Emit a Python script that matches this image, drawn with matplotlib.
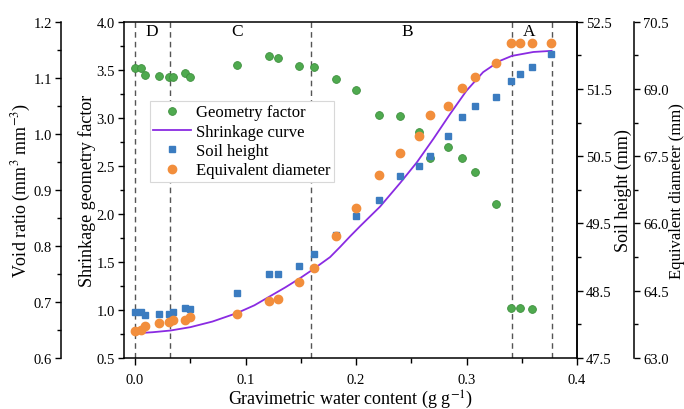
import matplotlib
matplotlib.use("Agg")
import matplotlib.pyplot as plt
from matplotlib.ticker import MultipleLocator, FormatStrFormatter, FixedLocator
from matplotlib.lines import Line2D

plt.rcParams['font.family'] = ['Liberation Serif', 'DejaVu Serif']
plt.rcParams['mathtext.fontset'] = 'stix'

# ---------------- data ----------------
water_content = [0.0, 0.005, 0.009, 0.022, 0.031, 0.0345, 0.045, 0.050, 0.092, 0.1216,
                 0.129, 0.1485, 0.1623, 0.1818, 0.2003, 0.221, 0.2395, 0.2568, 0.267,
                 0.2829, 0.296, 0.308, 0.327, 0.340, 0.3485, 0.3595, 0.376]
geometry_factor = [3.515, 3.515, 3.445, 3.44, 3.42, 3.42, 3.47, 3.42, 3.553, 3.646,
                   3.625, 3.539, 3.532, 3.40, 3.29, 3.029, 3.016, 2.849, 2.582,
                   2.70, 2.58, 2.433, 2.10, 1.018, 1.018, 1.01]
soil_height = [48.18, 48.18, 48.14, 48.15, 48.16, 48.18, 48.25, 48.23, 48.46, 48.75,
               48.75, 48.87, 49.05, 49.33, 49.61, 49.85, 50.21, 50.35, 50.51,
               50.805, 51.08, 51.24, 51.385, 51.62, 51.73, 51.83, 52.02]
equiv_diameter = [63.60, 63.62, 63.71, 63.77, 63.80, 63.85, 63.85, 63.91, 63.98, 64.27,
                  64.32, 64.70, 65.01, 65.71, 66.34, 67.08, 67.57, 67.96, 68.42,
                  68.63, 69.02, 69.27, 69.57, 70.02, 70.02, 70.02, 70.02]
curve_x = [0.0, 0.016, 0.032, 0.05, 0.07, 0.092, 0.108, 0.122, 0.136, 0.149, 0.161,
           0.1765, 0.1855, 0.1946, 0.2036, 0.2217, 0.2398, 0.255, 0.270, 0.285,
           0.300, 0.315, 0.330, 0.341, 0.3605, 0.377]
curve_void_ratio = [0.644, 0.646, 0.649, 0.655, 0.665, 0.680, 0.694, 0.710, 0.726,
                    0.742, 0.758, 0.780, 0.798, 0.817, 0.835, 0.870, 0.912, 0.949,
                    0.991, 1.035, 1.077, 1.110, 1.130, 1.139, 1.146, 1.148]
stage_bounds = [0.0, 0.032, 0.159, 0.341, 0.377]
stage_labels = ['D', 'C', 'B', 'A']
stage_label_x = [0.015, 0.092, 0.246, 0.357]
soil_height_ticks = [47.5, 48.5, 49.5, 50.5, 51.5, 52.5]
equiv_diameter_ticks = [63.0, 64.5, 66.0, 67.5, 69.0, 70.5]

# ---------------- figure ----------------
fig = plt.figure(figsize=(6.84, 4.10), dpi=100)
ax = fig.add_axes([0.1813, 0.1244, 0.6623, 0.8202])
ax_vr = ax.twinx()
ax_sh = ax.twinx()
ax_ed = ax.twinx()

FS_TICK = 10.5
FS_LAB = 13
green = '#4faa4f'
blue = '#3b7cc0'
orange = '#f28e3c'
purple = '#8a2be2'

for a in (ax, ax_vr, ax_sh, ax_ed):
    for s in a.spines.values():
        s.set_linewidth(1.1)
    a.tick_params(which='major', direction='out', length=4.5, width=1.0, labelsize=FS_TICK, pad=2)
    a.tick_params(which='minor', direction='out', length=3, width=1.0)
ax.tick_params(axis='x', which='major', length=5, pad=6)
ax.tick_params(axis='x', which='minor', length=3.5)

# main axis: geometry factor
ax.set_xlim(-0.01, 0.4)
ax.set_ylim(0.5, 4.0)
ax.xaxis.set_major_locator(MultipleLocator(0.1))
ax.xaxis.set_minor_locator(MultipleLocator(0.05))
ax.xaxis.set_major_formatter(FormatStrFormatter('%.1f'))
ax.yaxis.set_major_locator(MultipleLocator(0.5))
ax.yaxis.set_minor_locator(MultipleLocator(0.25))
ax.yaxis.set_major_formatter(FormatStrFormatter('%.1f'))
ax.set_xlabel('Gravimetric water content (g g$^{-1}$)', fontsize=FS_LAB, labelpad=1)
ax.set_ylabel('Shrinkage geometry factor', fontsize=FS_LAB, labelpad=0.5)

for xb in stage_bounds:
    ax.axvline(xb, color='#555555', lw=1.0, ls=(0, (4, 3)), zorder=1)
for lbl, xl in zip(stage_labels, stage_label_x):
    ax.text(xl, 0.972, lbl, transform=ax.get_xaxis_transform(), ha='center', va='center',
            fontsize=12.5)

ax.plot(water_content[:len(geometry_factor)], geometry_factor, 'o', color=green,
        mec='#3d8f3d', mew=0.6, ms=5.6, zorder=3)

# void ratio axis (far left)
ax_vr.spines['left'].set_position(('axes', -0.139))
ax_vr.spines['left'].set_visible(True)
for s in ('right', 'top', 'bottom'):
    ax_vr.spines[s].set_visible(False)
ax_vr.yaxis.set_ticks_position('left')
ax_vr.yaxis.set_label_position('left')
ax_vr.set_ylim(0.6, 1.2)
ax_vr.yaxis.set_major_locator(MultipleLocator(0.1))
ax_vr.yaxis.set_minor_locator(MultipleLocator(0.05))
ax_vr.yaxis.set_major_formatter(FormatStrFormatter('%.1f'))
ax_vr.set_ylabel('Void ratio (mm$^3$ mm$^{-3}$)', fontsize=FS_LAB, labelpad=0.5)
ax_vr.plot(curve_x, curve_void_ratio, '-', color=purple, lw=1.3, zorder=2)

# soil height axis (right)
for s in ('left', 'top', 'bottom'):
    ax_sh.spines[s].set_visible(False)
ax_sh.set_ylim(47.5, 52.5)
ax_sh.yaxis.set_major_locator(FixedLocator(soil_height_ticks))
ax_sh.yaxis.set_minor_locator(MultipleLocator(0.5))
ax_sh.yaxis.set_major_formatter(FormatStrFormatter('%.1f'))
ax_sh.set_ylabel('Soil height (mm)', fontsize=FS_LAB, labelpad=2)
ax_sh.plot(water_content, soil_height, 's', color=blue, mec=blue, ms=5.0, zorder=3)

# equivalent diameter axis (far right)
ax_ed.spines['right'].set_position(('axes', 1.1258))
for s in ('left', 'top', 'bottom'):
    ax_ed.spines[s].set_visible(False)
ax_ed.set_ylim(63.0, 70.5)
ax_ed.yaxis.set_major_locator(FixedLocator(equiv_diameter_ticks))
ax_ed.yaxis.set_minor_locator(MultipleLocator(0.75))
ax_ed.yaxis.set_major_formatter(FormatStrFormatter('%.1f'))
ax_ed.set_ylabel('Equivalent diameter (mm)', fontsize=12, labelpad=0.5)
ax_ed.plot(water_content, equiv_diameter, 'o', color=orange, mec=orange, ms=6.0, zorder=3)

handles = [
    Line2D([], [], ls='none', marker='o', color=green, mec='#3d8f3d', mew=0.6, ms=5.6),
    Line2D([], [], color=purple, lw=1.3),
    Line2D([], [], ls='none', marker='s', color=blue, ms=5.0),
    Line2D([], [], ls='none', marker='o', color=orange, ms=6.0),
]
labels = ['Geometry factor', 'Shrinkage curve', 'Soil height', 'Equivalent diameter']
leg = ax_ed.legend(handles, labels, loc='upper left', bbox_to_anchor=(0.057, 0.764),
                   bbox_transform=ax.transAxes, borderaxespad=0, fontsize=12,
                   frameon=True, fancybox=False, framealpha=1, edgecolor='#d8d8d8',
                   labelspacing=0.2, borderpad=0.2, handlelength=2.3, handletextpad=0.3)
leg.get_frame().set_linewidth(0.8)
leg.set_zorder(10)

fig.savefig('out.png', dpi=100)
